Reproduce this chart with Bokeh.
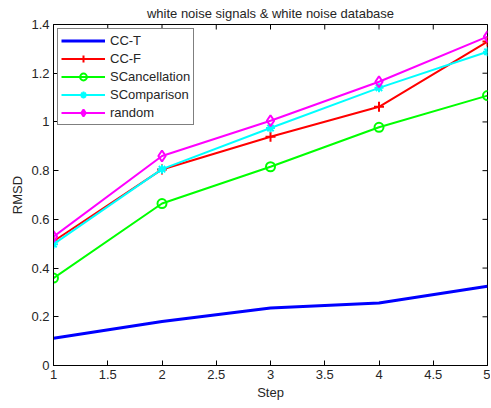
import math
from bokeh.plotting import figure
from bokeh.models import Range1d, FixedTicker, Legend, LegendItem
from bokeh.embed import file_html
from bokeh.resources import INLINE

steps = [1, 2, 3, 4, 5]
cc_t = [0.112, 0.181, 0.236, 0.257, 0.325]
cc_f = [0.510, 0.805, 0.939, 1.062, 1.330]
s_canc = [0.359, 0.665, 0.816, 0.978, 1.108]
s_comp = [0.498, 0.806, 0.975, 1.140, 1.288]
rand = [0.529, 0.860, 1.005, 1.165, 1.350]

x_ticks = [1, 1.5, 2, 2.5, 3, 3.5, 4, 4.5, 5]
y_ticks = [0, 0.2, 0.4, 0.6, 0.8, 1, 1.2, 1.4]
title_text = "white noise signals & white noise database"

FONT = "Liberation Sans"
TXT = "#262626"

p = figure(width=490, height=404, output_backend="svg", toolbar_location=None,
           x_range=Range1d(1, 5), y_range=Range1d(0, 1.4),
           min_border_left=53, min_border_right=3, min_border_top=23, min_border_bottom=39)
p.title.text = title_text
p.title.align = "center"
p.title.text_font = FONT
p.title.text_font_size = "13px"
p.title.text_font_style = "normal"
p.title.text_color = TXT
p.title.standoff = 7
p.title.offset = 0

p.xgrid.visible = False
p.ygrid.visible = False
p.outline_line_color = "black"
p.outline_line_width = 1
p.background_fill_color = "white"
p.border_fill_color = "white"

for ax, ticks in ((p.xaxis[0], x_ticks), (p.yaxis[0], y_ticks)):
    ax.ticker = FixedTicker(ticks=ticks)
    ax.major_tick_in = 5
    ax.major_tick_out = 0
    ax.minor_tick_line_color = None
    ax.axis_line_color = "black"
    ax.major_tick_line_color = "black"
    ax.major_label_text_font = FONT
    ax.major_label_text_font_size = "13px"
    ax.major_label_text_color = TXT
    ax.axis_label_text_font = FONT
    ax.axis_label_text_font_size = "13px"
    ax.axis_label_text_font_style = "normal"
    ax.axis_label_text_color = TXT
    ax.major_label_standoff = 4
    ax.axis_label_standoff = 3
p.xaxis[0].axis_label = "Step"
p.yaxis[0].axis_label = "RMSD"
p.xaxis[0].major_label_overrides = {1: "1", 2: "2", 3: "3", 4: "4", 5: "5"}
p.yaxis[0].major_label_overrides = {0: "0", 1: "1"}

# inward ticks on the top and right edges of the box (clipped to the frame)
p.scatter(x_ticks, [p.y_range.end] * len(x_ticks), marker="dash", angle=math.pi / 2,
          size=10, line_color="black", line_width=1)
p.scatter([p.x_range.end] * len(y_ticks), y_ticks, marker="dash",
          size=10, line_color="black", line_width=1)

items = []
r = p.line(steps, cc_t, line_color="#0000ff", line_width=3)
items.append(LegendItem(label="CC-T", renderers=[r]))

specs = [
    ("CC-F", cc_f, "#ff0000", "cross", 10),
    ("SCancellation", s_canc, "#00ff00", "circle", 9),
    ("SComparison", s_comp, "#00ffff", "asterisk", 9),
    ("random", rand, "#ff00ff", "diamond", 11),
]
for label, ys, col, mk, sz in specs:
    l = p.line(steps, ys, line_color=col, line_width=2)
    s = p.scatter(steps, ys, marker=mk, size=sz, line_color=col, fill_color=None, line_width=2)
    items.append(LegendItem(label=label, renderers=[l, s]))

leg = Legend(items=items, location="top_left", glyph_width=44, glyph_height=17,
             label_height=17, label_standoff=5, spacing=1, padding=3, margin=4,
             label_text_font=FONT, label_text_font_size="13px", label_text_color=TXT,
             border_line_color="black", border_line_width=1,
             background_fill_color="white", background_fill_alpha=1)
p.add_layout(leg, "center")

open("out.html", "w").write(file_html(p, INLINE))
